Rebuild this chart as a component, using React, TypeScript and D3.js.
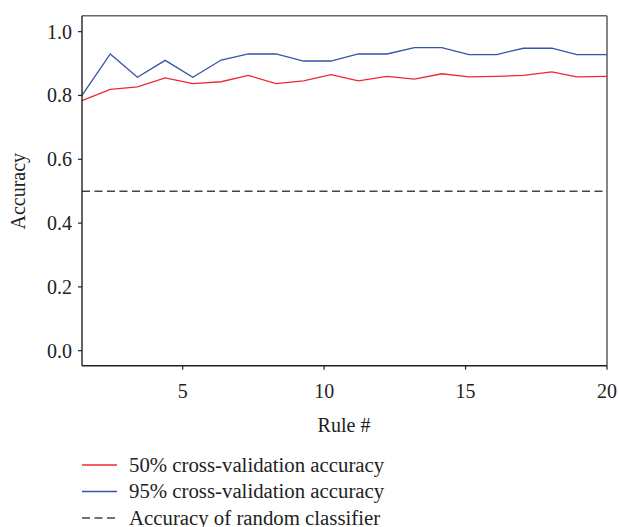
import React from "react";
import * as d3 from "d3";

const ruleX = [1.44, 2.44, 3.4, 4.38, 5.36, 6.36, 7.32, 8.3, 9.27, 10.24, 11.21, 12.22, 13.19, 14.16, 15.12, 16.1, 17.04, 18.05, 18.93, 20];
const acc50 = [0.784, 0.819, 0.827, 0.855, 0.837, 0.843, 0.863, 0.837, 0.846, 0.865, 0.846, 0.86, 0.851, 0.868, 0.858, 0.86, 0.863, 0.874, 0.858, 0.86];
const acc95 = [0.8, 0.93, 0.857, 0.91, 0.857, 0.911, 0.93, 0.93, 0.908, 0.908, 0.93, 0.93, 0.95, 0.95, 0.928, 0.928, 0.948, 0.948, 0.928, 0.928];
const randomAcc = 0.5;
const xTicks = [5, 10, 15, 20];
const yTicks = [0, 0.2, 0.4, 0.6, 0.8, 1.0];
const legendLabels = [
  "50% cross-validation accuracy",
  "95% cross-validation accuracy",
  "Accuracy of random classifier",
];

const W = 619;
const H = 527;
const M = { left: 82, right: 607, top: 15.7, bottom: 365.7 };
const FONT = "'Liberation Serif', 'DejaVu Serif', serif";
const FS = 20;
const LFS = 20.8;
const RED = "#ee2830";
const BLUE = "#3553a8";
const DASH = "#444";

export default function App() {
  const x = d3.scaleLinear().domain([1.44, 20]).range([M.left, M.right]);
  const y = d3.scaleLinear().domain([-0.047, 1.05]).range([M.bottom, M.top]);
  const line = d3
    .line<number>()
    .x((_, i) => x(ruleX[i]))
    .y((d) => y(d));

  const legendColors = [RED, BLUE, DASH];
  const legendDash = [undefined, undefined, "8,4.5"];

  return (
    <svg
      width={W}
      height={H}
      style={{ position: "absolute", left: 0, top: 0, background: "#fff" }}
      fontFamily={FONT}
    >
      <line x1={M.left} x2={M.right} y1={M.top} y2={M.top} stroke="#666" strokeWidth={1.6} />
      <line x1={M.right} x2={M.right} y1={M.top} y2={M.bottom} stroke="#666" strokeWidth={1.6} />

      <line
        x1={M.left}
        x2={M.right}
        y1={y(randomAcc)}
        y2={y(randomAcc)}
        stroke={DASH}
        strokeWidth={1.5}
        strokeDasharray="8,4.5"
      />
      <path d={line(acc50) ?? ""} fill="none" stroke={RED} strokeWidth={1.3} />
      <path d={line(acc95) ?? ""} fill="none" stroke={BLUE} strokeWidth={1.3} />

      <line x1={M.left} x2={M.left} y1={M.top} y2={M.bottom} stroke="#222" strokeWidth={1.4} />
      <line x1={M.left} x2={M.right} y1={M.bottom} y2={M.bottom} stroke="#222" strokeWidth={1.4} />

      {yTicks.map((t) => (
        <g key={"y" + t}>
          <line x1={M.left - 4} x2={M.left} y1={y(t)} y2={y(t)} stroke="#222" strokeWidth={1.2} />
          <text
            x={M.left - 10}
            y={y(t)}
            dy="0.35em"
            textAnchor="end"
            fontSize={FS}
            fill="#222"
          >
            {t.toFixed(1)}
          </text>
        </g>
      ))}
      {xTicks.map((t) => (
        <g key={"x" + t}>
          <line x1={x(t)} x2={x(t)} y1={M.bottom} y2={M.bottom + 4} stroke="#222" strokeWidth={1.2} />
          <text x={x(t)} y={398} textAnchor="middle" fontSize={FS} fill="#222">
            {t}
          </text>
        </g>
      ))}

      <text x={344} y={432} textAnchor="middle" fontSize={FS} fill="#222">
        Rule #
      </text>
      <text
        transform={`translate(25, ${y(0.5)}) rotate(-90)`}
        textAnchor="middle"
        fontSize={FS}
        fill="#222"
      >
        Accuracy
      </text>

      {legendLabels.map((lab, i) => {
        const ly = 465 + i * 26.5;
        return (
          <g key={lab}>
            <line
              x1={82}
              x2={117}
              y1={ly}
              y2={ly}
              stroke={legendColors[i]}
              strokeWidth={1.3}
              strokeDasharray={legendDash[i]}
            />
            <text x={129} y={ly + 6.5} fontSize={LFS} fill="#222">
              {lab}
            </text>
          </g>
        );
      })}
    </svg>
  );
}
